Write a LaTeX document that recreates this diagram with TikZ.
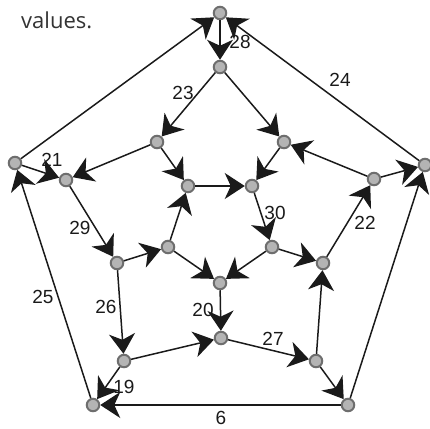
\documentclass[tikz,border=0pt]{standalone}
\usepackage{fontspec}
\setmainfont{Liberation Sans}
\newfontfamily\notefont{Open Sans}
\usetikzlibrary{arrows.meta}
\definecolor{vfill}{HTML}{B4B4B4}
\definecolor{vline}{HTML}{6E6E6E}
\definecolor{eline}{HTML}{1A1A1A}
\definecolor{notecol}{HTML}{333333}
\tikzset{
  vtx/.style={circle, fill=vfill, draw=vline, line width=2pt, inner sep=0pt, minimum size=12.5pt},
  arc/.style={draw=eline, line width=1.5pt, -{Stealth[length=20pt,width=26pt,inset=6pt]}},
  wt/.style={font=\fontsize{19}{19}\selectfont, text=eline, inner sep=0pt},
}
\begin{document}
\begin{tikzpicture}[x=1pt,y=-1pt]
\useasboundingbox (0,0) rectangle (430,428);
\node[font=\notefont\fontsize{22}{22}\selectfont, text=notecol, anchor=base west, inner sep=0pt] (note) at (21,29) {values.};
% outer pentagon
\node[vtx] (o1) at (220,13) {};
\node[vtx] (o2) at (425,165) {};
\node[vtx] (o3) at (348,405) {};
\node[vtx] (o4) at (93,405) {};
\node[vtx] (o5) at (15,163) {};
% middle ring
\node[vtx] (m1) at (220,67) {};
\node[vtx] (m2) at (284,142) {};
\node[vtx] (m3) at (374,179) {};
\node[vtx] (m4) at (323,263) {};
\node[vtx] (m5) at (316,361) {};
\node[vtx] (m6) at (221,338) {};
\node[vtx] (m7) at (124,361) {};
\node[vtx] (m8) at (117,263) {};
\node[vtx] (m9) at (66,180) {};
\node[vtx] (m10) at (157,142) {};
% inner pentagon
\node[vtx] (i1) at (188,186) {};
\node[vtx] (i2) at (252,186) {};
\node[vtx] (i3) at (272,247) {};
\node[vtx] (i4) at (220,283) {};
\node[vtx] (i5) at (168,247) {};
% directed edges
\draw[arc] (o5) -- (o1);
\draw[arc] (o2) -- (o1);
\draw[arc] (o1) -- (m1);
\draw[arc] (m1) -- (m10);
\draw[arc] (m1) -- (m2);
\draw[arc] (m10) -- (m9);
\draw[arc] (o5) -- (m9);
\draw[arc] (m10) -- (i1);
\draw[arc] (i1) -- (i2);
\draw[arc] (m2) -- (i2);
\draw[arc] (m3) -- (m2);
\draw[arc] (m3) -- (o2);
\draw[arc] (m4) -- (m3);
\draw[arc] (o3) -- (o2);
\draw[arc] (i2) -- (i3);
\draw[arc] (i3) -- (m4);
\draw[arc] (i3) -- (i4);
\draw[arc] (i5) -- (i4);
\draw[arc] (i4) -- (m6);
\draw[arc] (m5) -- (m4);
\draw[arc] (m6) -- (m5);
\draw[arc] (m5) -- (o3);
\draw[arc] (o3) -- (o4);
\draw[arc] (m7) -- (m6);
\draw[arc] (m7) -- (o4);
\draw[arc] (o4) -- (o5);
\draw[arc] (m8) -- (m7);
\draw[arc] (m9) -- (m8);
\draw[arc] (m8) -- (i5);
\draw[arc] (i5) -- (i1);
% weights
\node[wt] (w28) at (240,42) {28};
\node[wt] (w24) at (340,80) {24};
\node[wt] (w23) at (183,93) {23};
\node[wt] (w21) at (52,160) {21};
\node[wt] (w29) at (80,228) {29};
\node[wt] (w30) at (275,213) {30};
\node[wt] (w22) at (365,223) {22};
\node[wt] (w25) at (43,297) {25};
\node[wt] (w26) at (106,307) {26};
\node[wt] (w20) at (203,310) {20};
\node[wt] (w27) at (273,339) {27};
\node[wt] (w19) at (124,387) {19};
\node[wt] (w6) at (221,418) {6};
\end{tikzpicture}
\end{document}
